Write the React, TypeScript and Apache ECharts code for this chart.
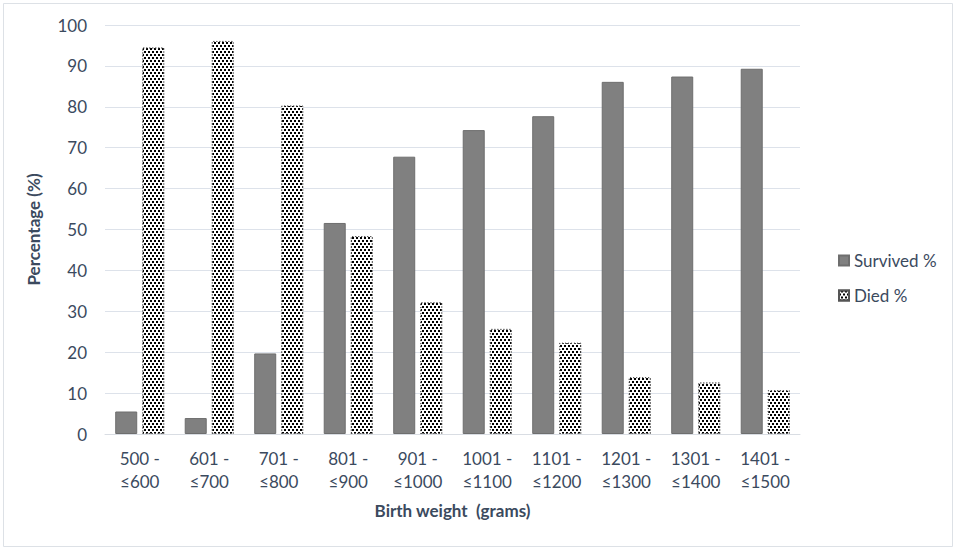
import React, { useEffect, useRef } from "react";
import * as echarts from "echarts";

const categories = [
  "500 -\n≤600",
  "601 -\n≤700",
  "701 -\n≤800",
  "801 -\n≤900",
  "901 -\n≤1000",
  "1001 -\n≤1100",
  "1101 -\n≤1200",
  "1201 -\n≤1300",
  "1301 -\n≤1400",
  "1401 -\n≤1500",
];
const survived = [5.5, 3.9, 19.7, 51.6, 67.8, 74.3, 77.7, 86.1, 87.4, 89.3];
const died = [94.5, 96.1, 80.3, 48.4, 32.2, 25.7, 22.3, 13.9, 12.6, 10.7];

const textColor = "#3b4a5e";
const font = "Lato, 'Open Sans', sans-serif";

export default function App() {
  const ref = useRef<HTMLDivElement>(null);
  useEffect(() => {
    document.body.style.margin = "0";
    const chart = echarts.init(ref.current!, undefined, { renderer: "svg" });
    chart.setOption({
      animation: false,
      backgroundColor: "#ffffff",
      textStyle: { fontFamily: font },
      graphic: [
        {
          type: "rect",
          shape: { x: 3.5, y: 3.5, width: 949, height: 543 },
          style: { fill: "none", stroke: "#dde1e6", lineWidth: 1 },
          silent: true,
        },
      ],
      grid: { left: 105, right: 157, top: 25, bottom: 117 },
      legend: {
        orient: "vertical",
        left: 833,
        top: 247,
        itemWidth: 10,
        itemHeight: 10,
        itemGap: 18,
        icon: "rect",
        textStyle: { color: textColor, fontSize: 17, fontFamily: font },
        data: ["Survived %", "Died %"],
      },
      xAxis: {
        type: "category",
        data: categories,
        axisTick: { show: false },
        axisLine: { lineStyle: { color: "#d9dde3", width: 1 } },
        axisLabel: {
          color: textColor,
          fontSize: 17,
          lineHeight: 23,
          margin: 13,
          interval: 0,
          fontFamily: font,
        },
        name: "Birth weight  (grams)",
        nameLocation: "middle",
        nameGap: 68,
        nameTextStyle: {
          color: textColor,
          fontSize: 17,
          fontWeight: "bold",
          fontFamily: font,
        },
      },
      yAxis: {
        type: "value",
        min: 0,
        max: 100,
        interval: 10,
        axisLine: { show: false },
        axisTick: { show: false },
        splitLine: { lineStyle: { color: "#dde2ea", width: 1 } },
        axisLabel: { color: textColor, fontSize: 17, margin: 18, fontFamily: font },
        name: "Percentage (%)",
        nameLocation: "middle",
        nameGap: 63,
        nameTextStyle: {
          color: textColor,
          fontSize: 17,
          fontWeight: "bold",
          fontFamily: font,
        },
      },
      series: [
        {
          name: "Survived %",
          type: "bar",
          data: survived,
          barWidth: 22,
          barGap: "23%",
          itemStyle: { color: "#808080", borderColor: "#6e6e6e", borderWidth: 1 },
        },
        {
          name: "Died %",
          type: "bar",
          data: died,
          barWidth: 22,
          itemStyle: {
            color: "#ffffff",
            borderColor: "#555555",
            borderWidth: 1,
            borderType: [1, 2],
            decal: {
              symbol: "rect",
              symbolSize: 1,
              color: "#000000",
              backgroundColor: "#ffffff",
              dashArrayX: [
                [1.5, 1.5],
                [0, 1.5, 1.5, 0],
              ],
              dashArrayY: [1.3, 1],
              rotation: 0,
            },
          },
        },
      ],
    });
    return () => chart.dispose();
  }, []);
  return (
    <div
      ref={ref}
      style={{ position: "fixed", left: 0, top: 0, width: 957, height: 551 }}
    />
  );
}
